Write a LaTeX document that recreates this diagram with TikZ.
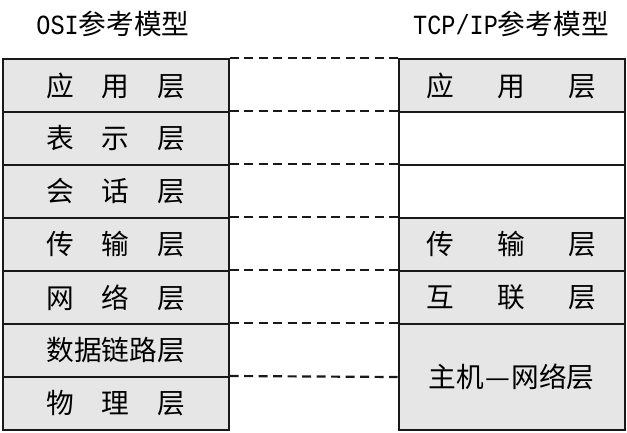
\documentclass[tikz,border=0pt]{standalone}
\usepackage{fontspec}
\setmainfont{Noto Sans CJK SC}
\newfontfamily\latinmono[FakeStretch=0.85]{Liberation Mono}
\definecolor{cellgray}{RGB}{230,230,230}
\definecolor{edge}{RGB}{25,25,25}
\tikzset{
  layer/.style={draw=edge, line width=2pt, minimum width=226pt, minimum height=53pt,
    inner sep=0pt, anchor=center, font=\fontsize{27.7}{30}\selectfont},
  filled/.style={fill=cellgray},
  blank/.style={fill=white},
  title/.style={inner sep=0pt, anchor=center, font=\fontsize{27.7}{30}\selectfont},
  link/.style={draw=edge, line width=2.2pt, dash pattern=on 9pt off 5.5pt}
}
\newcommand{\gapL}{\hspace{1em}}
\newcommand{\gapR}{\hspace{43pt}}
\begin{document}
\begin{tikzpicture}[x=1pt,y=-1pt]
\useasboundingbox (0,0) rectangle (627,432);
\node[title] (osititle) at (113,24) {{\latinmono OSI}参考模型};
\node[title] (tcptitle) at (511,24) {{\latinmono TCP/IP}参考模型};
% OSI column
\node[layer,filled] (osi1) at (115.7,85.5) {应\gapL 用\gapL 层};
\node[layer,filled] (osi2) at (115.7,138.5) {表\gapL 示\gapL 层};
\node[layer,filled] (osi3) at (115.7,191.5) {会\gapL 话\gapL 层};
\node[layer,filled] (osi4) at (115.7,244.5) {传\gapL 输\gapL 层};
\node[layer,filled] (osi5) at (115.7,297.5) {网\gapL 络\gapL 层};
\node[layer,filled] (osi6) at (115.7,350.5) {数据链路层};
\node[layer,filled] (osi7) at (115.7,403.5) {物\gapL 理\gapL 层};
% TCP/IP column
\node[layer,filled] (tcp1) at (511.5,85.5) {应\gapR 用\gapR 层};
\node[layer,blank] (tcp2) at (511.5,138.5) {};
\node[layer,blank] (tcp3) at (511.5,191.5) {};
\node[layer,filled] (tcp4) at (511.5,244.5) {传\gapR 输\gapR 层};
\node[layer,filled] (tcp5) at (511.5,297.5) {互\gapR 联\gapR 层};
\node[layer,filled,minimum height=106pt] (tcp6) at (511.5,377) {主机\makebox[1em]{—}网络层};
% dashed correspondences
\draw[link] (osi1.north east) -- (tcp1.north west);
\draw[link] (osi2.north east) -- (tcp2.north west);
\draw[link] (osi3.north east) -- (tcp3.north west);
\draw[link] (osi4.north east) -- (tcp4.north west);
\draw[link] (osi5.north east) -- (tcp5.north west);
\draw[link] (osi6.north east) -- (tcp6.north west);
\draw[link] (osi7.north east) -- (tcp6.west);
\end{tikzpicture}
\end{document}
